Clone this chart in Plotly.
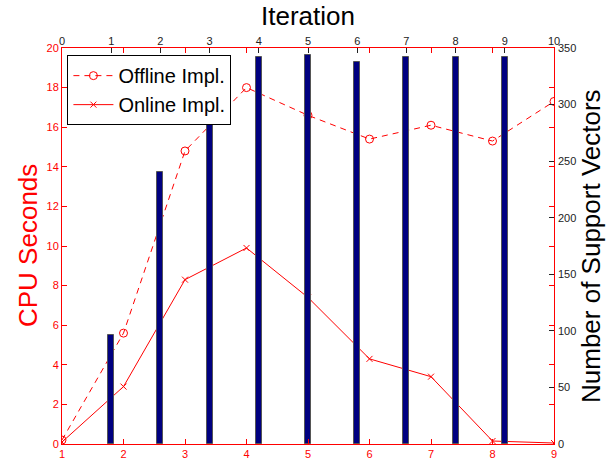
import plotly.graph_objects as go

# Iteration index for the timing curves (bottom axis)
runs = [1, 2, 3, 4, 5, 6, 7, 8, 9]
offline_cpu = [0.2, 5.6, 14.8, 18.0, 16.6, 15.4, 16.1, 15.3, 17.3]
online_cpu = [0.1, 2.9, 8.3, 9.9, 7.4, 4.3, 3.4, 0.15, 0.05]

# Iteration index for the support-vector counts (top axis)
iterations = [1, 2, 3, 4, 5, 6, 7, 8, 9]
support_vectors = [96, 240, 330, 342, 344, 338, 342, 342, 342]

FONT = "Liberation Sans, Arial, Helvetica, sans-serif"
RED = "#ff0000"

fig = go.Figure()

fig.add_trace(go.Scatter(
    x=runs, y=offline_cpu, name="Offline Impl.",
    mode="lines+markers",
    line=dict(color=RED, width=1, dash="6px,5px"),
    marker=dict(symbol="circle-open", size=8, color=RED, line=dict(width=1, color=RED)),
    xaxis="x", yaxis="y",
))
fig.add_trace(go.Scatter(
    x=runs, y=online_cpu, name="Online Impl.",
    mode="lines+markers",
    line=dict(color=RED, width=1),
    marker=dict(symbol="x-thin-open", size=6, color=RED, line=dict(width=1, color=RED)),
    xaxis="x", yaxis="y",
))
fig.add_trace(go.Bar(
    x=iterations, y=support_vectors, width=0.12,
    marker=dict(color="#000080", line=dict(color="#555555", width=1)),
    showlegend=False,
    xaxis="x2", yaxis="y2",
))

tickfont_red = dict(family=FONT, size=11, color=RED)
tickfont_blk = dict(family=FONT, size=11, color="#222222")

fig.update_layout(
    width=613, height=461,
    margin=dict(l=62, r=59, t=48, b=17, autoexpand=False),
    paper_bgcolor="white", plot_bgcolor="white",
    font=dict(family=FONT),
    showlegend=True,
    legend=dict(
        x=0.011, y=0.982, xanchor="left", yanchor="top",
        bgcolor="white", bordercolor="black", borderwidth=1,
        font=dict(family=FONT, size=20, color="black"),
        tracegroupgap=0, itemwidth=40,
    ),
    xaxis=dict(
        range=[1, 9], tickvals=list(range(1, 10)), automargin=False,
        showline=True, linecolor=RED, linewidth=1, mirror="ticks",
        ticks="inside", ticklen=5, tickcolor=RED,
        tickfont=tickfont_red, showgrid=False, zeroline=False,
    ),
    yaxis=dict(
        range=[0, 20], tickvals=list(range(0, 21, 2)), automargin=False,
        showline=True, linecolor=RED, linewidth=1, mirror="ticks",
        ticks="inside", ticklen=5, tickcolor=RED,
        tickfont=tickfont_red, showgrid=False, zeroline=False,
    ),
    xaxis2=dict(
        overlaying="x", side="top", range=[0, 10], tickvals=list(range(0, 11)),
        automargin=False,
        showline=False, ticks="inside", ticklen=5, tickcolor="#222222",
        tickfont=tickfont_blk, showgrid=False, zeroline=False,
    ),
    yaxis2=dict(
        overlaying="y", side="right", range=[0, 350], tickvals=list(range(0, 351, 50)),
        automargin=False, ticklabelstandoff=3,
        showline=False, ticks="inside", ticklen=5, tickcolor="#222222",
        tickfont=tickfont_blk, showgrid=False, zeroline=False,
    ),
    bargap=0,
)

fig.add_annotation(text="Iteration", xref="paper", yref="paper", x=0.5, y=1.0,
                   yshift=32, showarrow=False, yanchor="middle",
                   font=dict(family=FONT, size=26, color="black"))
fig.add_annotation(text="CPU Seconds", xref="paper", yref="paper", x=0, y=0.5,
                   xshift=-34, showarrow=False, textangle=-90, xanchor="center",
                   font=dict(family=FONT, size=26, color=RED))
fig.add_annotation(text="Number of Support Vectors", xref="paper", yref="paper", x=1, y=0.5,
                   xshift=37, showarrow=False, textangle=-90, xanchor="center",
                   font=dict(family=FONT, size=26, color="black"))

fig.write_html("out.html")
